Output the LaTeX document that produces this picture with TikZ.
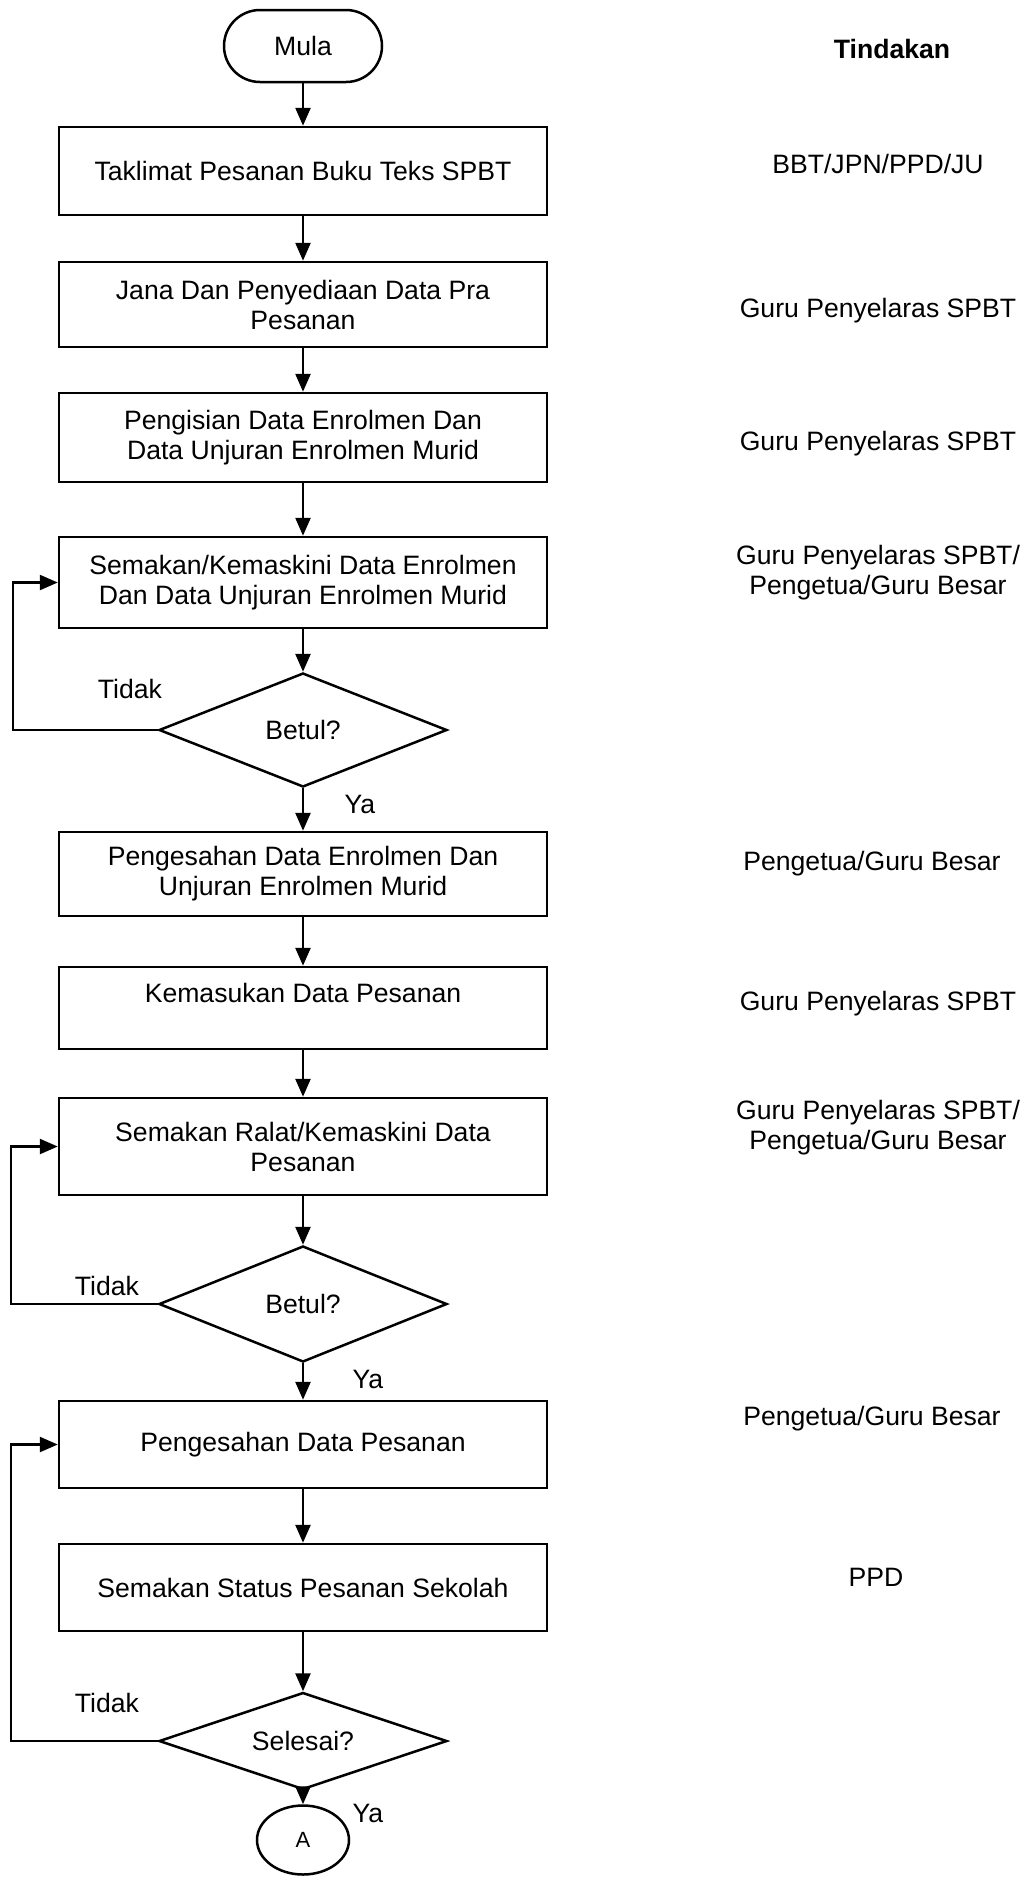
\documentclass[tikz,border=0pt]{standalone}
\usepackage{fontspec}
\setmainfont{Liberation Sans}
\usetikzlibrary{arrows.meta,shapes.geometric}

\tikzset{
  proc/.style={draw, line width=1.25pt, minimum width=244pt, align=center, inner sep=0pt},
  cond/.style={draw, diamond, shape aspect=3, line width=1.25pt, minimum width=144pt, inner sep=0pt},
  arr/.style={line width=1.25pt, -{Triangle[length=9pt,width=7.5pt]}},
  who/.style={align=center, inner sep=0pt},
}

\begin{document}
\begin{tikzpicture}[x=0.5pt, y=-0.5pt, font=\fontsize{13.3pt}{15pt}\selectfont]
  \useasboundingbox (0,0) rectangle (1025,1903);

  % flow
  \node[draw, line width=1.25pt, rounded corners=18pt, minimum width=79pt, minimum height=36pt] (mula) at (303,46) {Mula};
  \node[proc, minimum height=44pt] (b1) at (303,171) {Taklimat Pesanan Buku Teks SPBT};
  \node[proc, minimum height=42.5pt] (b2) at (303,304.5) {Jana Dan Penyediaan Data Pra\\Pesanan};
  \node[proc, minimum height=44.5pt] (b3) at (303,437.5) {Pengisian Data Enrolmen Dan\\Data Unjuran Enrolmen Murid};
  \node[proc, minimum height=45.5pt] (b4) at (303,582.5) {Semakan/Kemaskini Data Enrolmen\\Dan Data Unjuran Enrolmen Murid};
  \node[cond, minimum height=57pt] (d1) at (303,730) {Betul?};
  \node[proc, minimum height=42pt] (b5) at (303,874) {Pengesahan Data Enrolmen Dan\\Unjuran Enrolmen Murid};
  \node[proc, minimum height=41pt] (b6) at (303,1008) {Kemasukan Data Pesanan\\\mbox{}};
  \node[proc, minimum height=48.5pt] (b7) at (303,1146.5) {Semakan Ralat/Kemaskini Data\\Pesanan};
  \node[cond, minimum height=58pt] (d2) at (303,1304) {Betul?};
  \node[proc, minimum height=43.5pt] (b8) at (303,1444.5) {Pengesahan Data Pesanan};
  \node[proc, minimum height=43.5pt] (b9) at (303,1587.5) {Semakan Status Pesanan Sekolah};
  \node[cond, minimum height=48.5pt] (d3) at (303,1741) {Selesai?};
  \node[draw, ellipse, line width=1.25pt, minimum width=46pt, minimum height=34.5pt, inner sep=0pt,
        font=\fontsize{11pt}{12pt}\selectfont] (endA) at (303,1840) {A};

  \foreach \a/\b in {mula/b1, b1/b2, b2/b3, b3/b4, b4/d1, d1/b5, b5/b6, b6/b7, b7/d2, d2/b8, b8/b9, b9/d3, d3/endA}
    \draw[arr] (\a) -- (\b);

  % loops back
  \draw[arr] (d1.west) -- ++(-145,0) |- (b4.west);
  \draw[arr] (d2.west) -- ++(-147,0) |- (b7.west);
  \draw[arr] (d3.west) -- ++(-147,0) |- (b8.west);

  \node[who] (t1) at (130,689) {Tidak};
  \node[who] (t2) at (107,1286) {Tidak};
  \node[who] (t3) at (107,1703) {Tidak};
  \node[who] (y1) at (360,804) {Ya};
  \node[who] (y2) at (368,1379) {Ya};
  \node[who] (y3) at (368,1813) {Ya};

  % Tindakan column
  \node[who, font=\fontsize{13.3pt}{15pt}\selectfont\bfseries] (head) at (892,49) {Tindakan};
  \node[who] (w1) at (878,164) {BBT/JPN/PPD/JU};
  \node[who] (w2) at (878,311) {Guru Penyelaras SPBT};
  \node[who] (w3) at (878,444) {Guru Penyelaras SPBT};
  \node[who] (w4) at (878,573) {Guru Penyelaras SPBT/\\Pengetua/Guru Besar};
  \node[who] (w5) at (872,864) {Pengetua/Guru Besar};
  \node[who] (w6) at (878,1004) {Guru Penyelaras SPBT};
  \node[who] (w7) at (878,1128) {Guru Penyelaras SPBT/\\Pengetua/Guru Besar};
  \node[who] (w8) at (872,1419) {Pengetua/Guru Besar};
  \node[who] (w9) at (876,1577) {PPD};
\end{tikzpicture}
\end{document}
